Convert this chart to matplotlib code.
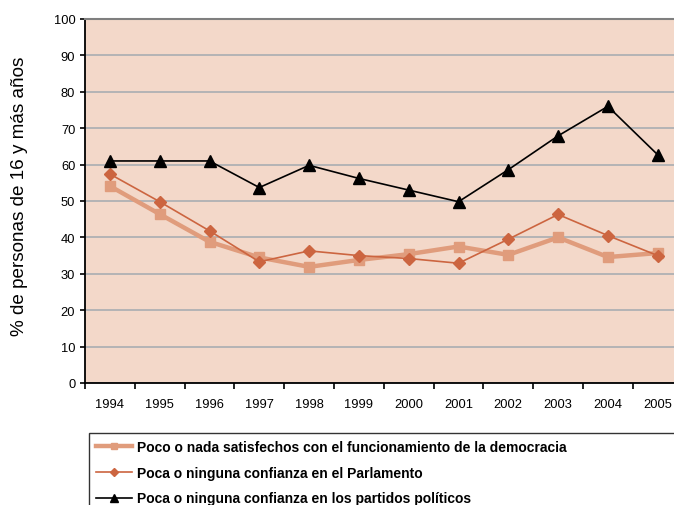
import matplotlib as mpl
import matplotlib.pyplot as plt
import numpy as np

years = ["1994", "1995", "1996", "1997", "1998", "1999",
         "2000", "2001", "2002", "2003", "2004", "2005"]

satisfechos = [54.1, 46.4, 38.8, 34.5, 31.9, 33.8, 35.4, 37.5, 35.2, 40.0, 34.6, 35.7]
parlamento = [57.4, 49.8, 41.8, 33.3, 36.3, 35.0, 34.2, 32.9, 39.5, 46.3, 40.5, 35.0]
partidos = [61.0, 61.0, 61.0, 53.7, 59.8, 56.2, 53.0, 49.8, 58.6, 67.9, 76.0, 62.7]

labels = ["Poco o nada satisfechos con el funcionamiento de la democracia",
          "Poca o ninguna confianza en el Parlamento",
          "Poca o ninguna confianza en los partidos políticos"]

mpl.rcParams['font.family'] = ["Liberation Sans", "DejaVu Sans"]
mpl.rcParams['font.size'] = 9.3

fig = plt.figure(figsize=(6.74, 5.06), dpi=100)
W, H = 674, 506
ax = fig.add_axes([85 / W, 1 - 384 / H, 597.6 / W, 364 / H])
ax.set_facecolor("#F3D8C9")

x = np.arange(len(years))
l1, = ax.plot(x, satisfechos, color="#E09C7C", lw=3.2, marker="s", ms=6.5,
              mec="#E09C7C", mfc="#E09C7C", zorder=3)
l2, = ax.plot(x, parlamento, color="#CC6540", lw=1.2, marker="D", ms=6,
              mec="#CC6540", mfc="#CC6540", zorder=4)
l3, = ax.plot(x, partidos, color="black", lw=1.2, marker="^", ms=8.5,
              mec="black", mfc="black", zorder=5)

ax.set_xlim(-0.5, 11.5)
ax.set_ylim(0, 100)
ax.set_yticks(range(0, 101, 10))
ax.yaxis.grid(True, color="#A9ADB2", lw=1.2)
ax.set_axisbelow(True)

ax.set_xticks(x)
ax.set_xticklabels(years)
ax.set_xticks(np.arange(-0.5, 12, 1), minor=True)
ax.tick_params(axis="x", which="major", length=0, pad=11)
ax.tick_params(axis="x", which="minor", length=4, width=1.2, direction="out")
ax.tick_params(axis="y", length=3.5, width=1.2, pad=3.5)

ax.spines["left"].set_linewidth(1.3)
ax.spines["bottom"].set_linewidth(1.3)
ax.spines["top"].set_color("#7F7F7F")
ax.spines["top"].set_linewidth(1.5)
ax.spines["right"].set_color("#7F7F7F")

ax.set_ylabel("% de personas de 16 y más años", fontsize=13.6)
ax.yaxis.set_label_coords(-57 / 597.6, 0.515)

leg = fig.legend([l1, l2, l3], labels, loc="upper left",
                 bbox_to_anchor=(89 / W, 1 - 439 / H, 0.9, 0.01), mode="expand",
                 frameon=True, fancybox=False, edgecolor="black",
                 prop={"weight": "bold", "size": 10}, handlelength=2.6,
                 handletextpad=0.35, labelspacing=0.85, borderpad=0.5,
                 borderaxespad=0, markerscale=0.75)
leg.get_frame().set_linewidth(1.0)

fig.savefig("out.png", dpi=100)
